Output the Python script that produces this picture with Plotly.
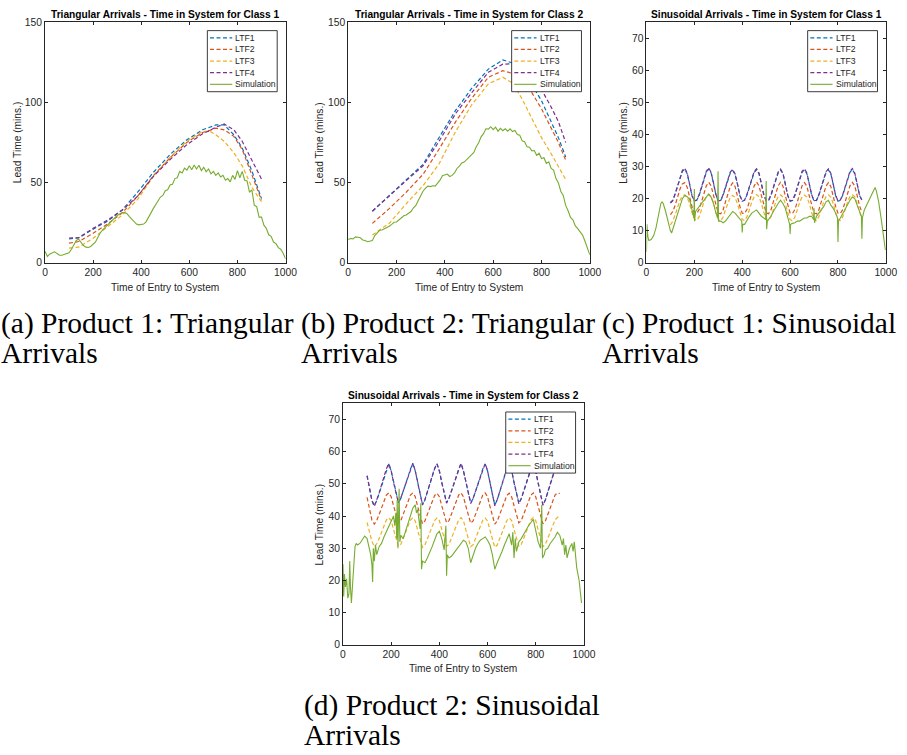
import plotly.graph_objects as go

W, H = 907, 755

# ---------------- data ----------------
SERIES_NAMES = ["LTF1", "LTF2", "LTF3", "LTF4", "Simulation"]
X_TICKS = [0, 200, 400, 600, 800, 1000]
Y_TICKS_TRI = [0, 50, 100, 150]
Y_TICKS_SIN = [0, 10, 20, 30, 40, 50, 60, 70]

TITLES = [
    "Triangular Arrivals - Time in System for Class 1",
    "Triangular Arrivals - Time in System for Class 2",
    "Sinusoidal Arrivals - Time in System for Class 1",
    "Sinusoidal Arrivals - Time in System for Class 2",
]
CAPTIONS = [
    ("(a) Product 1: Triangular", "Arrivals"),
    ("(b) Product 2: Triangular", "Arrivals"),
    ("(c) Product 1: Sinusoidal", "Arrivals"),
    ("(d) Product 2: Sinusoidal", "Arrivals"),
]

# Panel (a): triangular arrivals, class 1
T_A_LTF = [100, 140, 200, 260, 320, 385, 450, 520, 590, 655, 685, 710, 745, 785, 820, 860, 900]
A_LTF1 = [15.0, 15.5, 21.0, 26.0, 32.8, 44.0, 56.3, 67.5, 76.7, 82.9, 84.5, 85.9, 85.9, 79.8, 71.6, 57.3, 40.0]
A_LTF2 = [12.3, 13.3, 18.4, 24.2, 31.1, 41.5, 54.2, 65.5, 75.1, 81.2, 82.5, 83.9, 82.9, 78.8, 70.6, 55.3, 39.0]
A_LTF3 = [9.2, 9.8, 15.3, 22.5, 29.7, 39.5, 53.8, 65.8, 75.7, 81.9, 82.0, 79.8, 75.7, 68.6, 60.4, 47.1, 38.0]
A_LTF4 = [15.5, 15.7, 21.5, 26.6, 32.8, 41.5, 53.8, 64.4, 73.7, 80.4, 82.5, 84.5, 86.5, 82.9, 75.7, 63.5, 52.2]
T_A_SIM = list(range(0, 1001, 10))
A_SIM = [7.2, 4.0, 5.6, 6.5, 6.9, 5.8, 4.8, 4.8, 5.2, 5.7,
         6.3, 8.5, 11.5, 14.0, 14.8, 12.5, 10.8, 9.8, 9.6, 10.2,
         11.5, 13.0, 16.0, 18.8, 20.5, 22.0, 23.5, 25.0, 26.8, 28.2,
         29.5, 30.5, 31.2, 31.3, 30.8, 29.0, 27.2, 25.5, 24.2, 23.7,
         23.8, 24.2, 25.6, 28.0, 31.0, 33.8, 36.2, 38.5, 41.0, 42.0,
         45.0, 45.5, 48.5, 49.0, 52.5, 53.0, 57.0, 56.0, 59.0, 57.8,
         60.5, 58.0, 61.0, 58.5, 60.8, 57.5, 59.5, 56.8, 58.5, 55.5,
         57.0, 54.5, 56.0, 53.5, 54.5, 51.5, 52.5, 50.5, 54.5, 52.0,
         57.5, 53.0, 57.0, 51.5, 51.0, 44.0, 45.5, 36.0, 35.0, 28.5,
         28.5, 23.5, 21.5, 17.5, 16.5, 13.0, 12.0, 9.5, 8.5, 6.0,
         2.5]

# Panel (b): triangular arrivals, class 2
T_B_LTF = [100, 170, 240, 310, 375, 445, 510, 580, 640, 680, 720, 760, 800, 840, 870, 900]
B_LTF1 = [32.2, 42.0, 51.2, 61.4, 77.8, 95.1, 108.5, 120.7, 126.4, 124.5, 119.0, 111.0, 101.0, 88.0, 78.0, 66.0]
B_LTF2 = [24.6, 33.8, 44.0, 55.2, 70.6, 88.0, 102.3, 115.6, 119.7, 118.0, 113.0, 106.0, 96.0, 84.0, 75.0, 64.0]
B_LTF3 = [17.4, 24.6, 36.8, 48.1, 61.4, 81.9, 98.2, 111.5, 115.6, 112.0, 102.0, 90.0, 78.0, 68.0, 60.0, 52.0]
B_LTF4 = [32.2, 42.0, 51.2, 60.5, 75.5, 93.1, 105.8, 118.7, 123.8, 124.0, 121.5, 116.0, 108.0, 97.0, 88.0, 75.0]
T_B_SIM = list(range(0, 1001, 10))
B_SIM = [14.5, 15.2, 15.0, 16.2, 16.0, 15.6, 14.3, 14.0, 13.2, 13.5,
         14.0, 17.0, 19.0, 20.3, 20.5, 21.3, 21.8, 22.8, 24.0, 25.3,
         25.5, 26.8, 27.5, 29.3, 29.8, 30.8, 32.0, 34.3, 35.8, 38.8,
         41.5, 44.8, 46.5, 47.8, 47.5, 48.0, 47.8, 49.8, 51.5, 54.3,
         55.0, 55.3, 53.8, 54.5, 56.0, 58.8, 60.3, 62.3, 62.8, 64.3,
         65.3, 67.3, 68.8, 72.3, 74.8, 78.5, 80.5, 83.5, 83.3, 84.8,
         83.0, 84.5, 82.0, 83.8, 82.3, 83.5, 82.0, 83.5, 81.8, 82.5,
         80.0, 79.5, 76.0, 75.5, 72.3, 72.0, 69.8, 70.0, 67.0, 68.3,
         65.0, 65.5, 62.0, 63.0, 58.8, 57.8, 52.5, 49.8, 44.5, 42.0,
         35.8, 32.5, 28.3, 26.8, 23.0, 21.3, 19.0, 17.3, 13.5, 8.5,
         5.0]

# Panel (c): sinusoidal arrivals, class 1
T_C_LTF = list(range(100, 901, 10))
C_LTF1 = [18.8, 19.5, 21.5, 24.0, 26.5, 28.5, 29.2, 27.8, 24.5, 21.0,
          19.3, 19.5, 21.0, 23.5, 26.0, 28.2, 29.3, 28.0, 24.8, 21.2,
          19.2, 19.4, 21.0, 23.6, 26.0, 28.0, 28.8, 27.6, 24.5, 21.0,
          19.2, 19.5, 21.2, 23.6, 26.2, 28.2, 29.0, 27.8, 24.6, 21.2,
          19.3, 19.4, 21.0, 23.5, 26.0, 28.0, 28.9, 27.8, 24.5, 21.0,
          19.2, 19.4, 21.0, 23.5, 26.2, 28.2, 29.0, 27.8, 24.6, 21.1,
          19.3, 19.4, 21.0, 23.6, 26.0, 28.1, 29.0, 27.7, 24.5, 21.0,
          19.2, 19.5, 21.1, 23.5, 26.1, 28.2, 29.1, 27.8, 24.6, 21.0,
          19.5]
C_LTF2 = [15.0, 16.0, 18.0, 20.5, 23.0, 24.6, 25.0, 23.6, 20.6, 17.6,
          15.6, 15.4, 16.6, 19.0, 21.6, 24.0, 25.1, 24.0, 21.0, 17.8,
          15.5, 15.3, 16.5, 19.0, 21.5, 23.8, 24.9, 23.8, 20.8, 17.6,
          15.5, 15.4, 16.7, 19.1, 21.7, 24.0, 25.2, 24.0, 21.0, 17.8,
          15.6, 15.3, 16.5, 19.0, 21.6, 24.0, 25.1, 23.9, 20.9, 17.7,
          15.5, 15.4, 16.6, 19.0, 21.6, 24.0, 25.0, 23.9, 20.9, 17.7,
          15.5, 15.3, 16.5, 19.0, 21.6, 23.9, 25.0, 23.8, 20.8, 17.6,
          15.5, 15.4, 16.6, 19.1, 21.7, 24.0, 25.1, 24.0, 21.0, 17.8,
          15.8]
C_LTF3 = [11.8, 13.0, 15.0, 17.5, 19.5, 20.8, 21.2, 20.4, 18.4, 15.6,
          13.6, 13.2, 14.4, 16.6, 19.0, 20.6, 21.2, 20.6, 18.6, 15.8,
          13.5, 13.0, 14.3, 16.5, 18.8, 20.4, 21.0, 20.4, 18.4, 15.6,
          13.5, 13.2, 14.4, 16.6, 19.0, 20.6, 21.3, 20.6, 18.6, 15.8,
          13.6, 13.2, 14.4, 16.6, 19.0, 20.6, 21.2, 20.5, 18.5, 15.7,
          13.5, 13.1, 14.3, 16.5, 18.9, 20.5, 21.1, 20.5, 18.5, 15.7,
          13.5, 13.2, 14.4, 16.6, 19.0, 20.6, 21.2, 20.5, 18.5, 15.7,
          13.5, 13.2, 14.4, 16.6, 19.0, 20.6, 21.2, 20.6, 18.6, 15.8,
          14.0]
C_LTF4 = [18.6, 19.4, 21.6, 24.2, 26.8, 28.8, 29.5, 28.0, 24.6, 21.0,
          19.3, 19.6, 21.2, 23.8, 26.3, 28.5, 29.6, 28.2, 24.9, 21.3,
          19.3, 19.5, 21.2, 23.8, 26.2, 28.3, 29.1, 27.8, 24.6, 21.1,
          19.3, 19.6, 21.4, 23.8, 26.4, 28.5, 29.3, 28.0, 24.7, 21.3,
          19.4, 19.5, 21.2, 23.7, 26.2, 28.3, 29.2, 28.0, 24.6, 21.1,
          19.3, 19.5, 21.2, 23.7, 26.4, 28.5, 29.3, 28.0, 24.7, 21.2,
          19.4, 19.5, 21.2, 23.8, 26.2, 28.4, 29.3, 27.9, 24.6, 21.1,
          19.3, 19.6, 21.3, 23.7, 26.3, 28.5, 29.4, 28.0, 24.7, 21.1,
          19.6]
T_C_SIM = [0, 2, 6, 10, 20, 30, 40, 50, 60, 65, 70, 80, 90, 100, 105, 110, 120, 130, 140, 150,
           160, 170, 180, 190, 195, 198, 200, 201, 205, 210, 220, 230, 240, 250, 260, 270, 280, 290, 297, 299,
           301, 310, 320, 330, 340, 350, 360, 370, 380, 390, 398, 400, 402, 410, 420, 430, 440, 450, 460, 470,
           480, 490, 498, 500, 502, 505, 510, 520, 530, 540, 550, 560, 570, 580, 590, 598, 600, 602, 610, 620,
           630, 640, 650, 660, 670, 680, 690, 698, 700, 702, 710, 720, 730, 740, 750, 760, 770, 780, 790, 798,
           800, 802, 810, 820, 830, 840, 850, 860, 870, 880, 890, 898, 900, 902, 910, 920, 930, 940, 950, 955,
           960, 970, 980, 990, 998]
C_SIM = [3.5, 12.0, 8.0, 7.0, 7.3, 8.5, 11.0, 15.0, 18.5, 19.0, 18.5, 16.0, 12.5, 10.0, 9.3, 10.5, 12.5, 15.0, 18.0, 20.0,
         21.0, 20.6, 19.8, 16.5, 15.5, 14.0, 23.0, 13.0, 16.0, 16.5, 17.5, 18.5, 19.5, 20.5, 21.5, 20.5, 18.5, 15.5, 14.0, 28.5,
         13.0, 13.0, 12.5, 13.0, 14.0, 15.0, 16.0, 15.5, 14.5, 13.5, 13.0, 9.5, 12.0, 12.0, 13.5, 14.5, 15.5, 16.0, 16.5, 15.5,
         14.5, 14.0, 13.5, 25.5, 10.5, 13.0, 13.5, 14.5, 16.0, 17.5, 18.5, 19.5, 18.5, 17.0, 14.0, 12.0, 9.0, 12.0, 12.3, 12.5,
         13.0, 13.0, 13.5, 14.0, 14.0, 14.5, 14.5, 13.5, 17.0, 12.5, 14.5, 15.5, 16.5, 17.5, 19.0, 19.5, 18.0, 17.0, 15.5, 14.0,
         6.5, 13.0, 14.0, 15.5, 17.0, 18.5, 19.5, 20.5, 20.0, 18.0, 16.0, 14.5, 7.5, 14.0, 16.5, 18.0, 20.0, 21.5, 23.0, 23.5,
         22.5, 19.0, 14.0, 9.0, 4.0]

# Panel (d): sinusoidal arrivals, class 2
T_D_LTF = list(range(100, 901, 10))
D_LTF1 = [52.5, 48.5, 45.0, 43.2, 44.8, 47.0, 49.5, 52.0, 54.5, 56.2,
          54.0, 50.5, 47.0, 44.3, 45.5, 47.6, 49.8, 52.2, 54.6, 56.3,
          54.0, 50.3, 46.8, 43.6, 45.0, 47.4, 49.8, 52.2, 54.6, 56.2,
          54.0, 50.5, 47.0, 44.2, 45.5, 47.6, 49.8, 52.2, 54.6, 56.3,
          54.0, 50.5, 47.0, 44.1, 45.4, 47.5, 49.8, 52.2, 54.6, 56.2,
          54.0, 50.3, 46.8, 43.4, 45.0, 47.4, 49.8, 52.2, 54.6, 56.2,
          54.0, 50.5, 47.0, 44.0, 45.4, 47.5, 49.8, 52.2, 54.5, 56.0,
          53.8, 50.3, 46.7, 43.5, 45.0, 47.3, 49.7, 52.1, 54.5, 56.0,
          54.0]
D_LTF2 = [45.8, 42.0, 38.8, 37.5, 38.6, 40.5, 42.5, 44.5, 46.5, 47.2,
          46.0, 43.2, 40.3, 38.0, 38.6, 40.5, 42.6, 44.6, 46.5, 47.2,
          46.0, 43.0, 40.0, 37.6, 38.5, 40.4, 42.5, 44.5, 46.4, 47.1,
          46.0, 43.2, 40.2, 37.9, 38.6, 40.5, 42.6, 44.6, 46.5, 47.2,
          46.0, 43.1, 40.1, 37.8, 38.5, 40.4, 42.5, 44.5, 46.5, 47.2,
          46.0, 43.0, 40.0, 37.5, 38.4, 40.4, 42.5, 44.5, 46.4, 47.1,
          46.0, 43.2, 40.2, 37.9, 38.6, 40.5, 42.6, 44.6, 46.5, 47.2,
          46.0, 43.0, 40.0, 37.6, 38.5, 40.5, 42.6, 44.6, 46.5, 47.2,
          47.0]
D_LTF3 = [38.0, 35.0, 32.2, 30.5, 31.4, 33.0, 35.0, 37.0, 38.8, 39.5,
          38.6, 35.8, 32.8, 30.6, 31.2, 33.0, 35.0, 37.0, 38.8, 39.5,
          38.5, 35.6, 32.6, 30.3, 31.0, 32.8, 34.8, 36.8, 38.6, 39.4,
          38.6, 35.8, 32.8, 30.6, 31.2, 33.0, 35.0, 37.0, 38.8, 39.5,
          38.6, 35.7, 32.7, 30.5, 31.1, 32.9, 34.9, 36.9, 38.7, 39.4,
          38.5, 35.6, 32.6, 30.3, 31.0, 32.8, 34.8, 36.8, 38.6, 39.4,
          38.6, 35.8, 32.8, 30.6, 31.2, 33.0, 35.0, 37.0, 38.8, 39.5,
          38.6, 35.7, 32.7, 30.5, 31.2, 33.0, 35.0, 37.0, 38.8, 39.6,
          40.0]
D_LTF4 = [52.6, 48.4, 44.8, 43.0, 44.9, 47.2, 49.7, 52.2, 54.7, 56.3,
          54.1, 50.4, 46.9, 44.1, 45.6, 47.8, 50.0, 52.4, 54.8, 56.4,
          54.1, 50.2, 46.6, 43.4, 45.1, 47.6, 50.0, 52.4, 54.8, 56.3,
          54.1, 50.4, 46.9, 44.0, 45.6, 47.8, 50.0, 52.4, 54.8, 56.4,
          54.1, 50.4, 46.9, 43.9, 45.5, 47.7, 50.0, 52.4, 54.8, 56.3,
          54.1, 50.2, 46.6, 43.2, 45.1, 47.6, 50.0, 52.4, 54.8, 56.3,
          54.1, 50.4, 46.9, 43.8, 45.5, 47.7, 50.0, 52.4, 54.7, 56.1,
          53.9, 50.2, 46.6, 43.3, 45.1, 47.5, 49.9, 52.3, 54.7, 56.1,
          54.1]
T_D_SIM = [0, 3, 6, 10, 15, 20, 25, 28, 31, 35, 40, 45, 50, 55, 60, 70, 80, 90, 100, 110,
           115, 120, 123, 126, 130, 135, 140, 150, 160, 170, 180, 190, 200, 210, 215, 220, 223, 225, 228, 230,
           233, 236, 240, 250, 260, 270, 280, 290, 300, 305, 310, 315, 320, 323, 326, 330, 340, 350, 360, 370,
           380, 390, 400, 410, 420, 427, 430, 433, 440, 450, 460, 470, 480, 490, 500, 510, 520, 530, 540, 550,
           560, 570, 580, 590, 600, 610, 620, 630, 640, 650, 660, 670, 680, 690, 700, 705, 710, 715, 720, 730,
           740, 750, 760, 770, 780, 790, 800, 810, 820, 825, 828, 835, 840, 850, 860, 870, 880, 890, 900, 910,
           915, 920, 925, 930, 940, 950, 955, 960, 965, 970, 980, 990]
D_SIM = [25.0, 15.0, 22.0, 18.0, 20.5, 14.5, 16.0, 26.0, 18.0, 13.0, 19.0, 26.0, 30.5, 31.5, 31.0, 31.5, 32.5, 33.8, 33.0, 30.0,
         28.0, 25.0, 19.5, 30.0, 26.0, 31.0, 28.0, 30.5, 31.5, 33.5, 35.0, 36.5, 38.0, 40.0, 37.0, 41.0, 33.0, 45.0, 30.0, 35.0,
         48.5, 32.0, 34.0, 33.0, 35.5, 37.5, 40.0, 42.5, 43.5, 41.0, 42.0, 38.0, 36.0, 44.0, 23.5, 26.0, 25.5, 27.0, 28.5, 30.5,
         32.5, 34.5, 35.3, 33.0, 29.5, 37.0, 21.5, 28.0, 27.0, 27.5, 28.5, 29.5, 30.5, 31.5, 32.5, 32.0, 30.0, 25.5, 28.0, 30.0,
         31.5, 32.5, 33.0, 33.5, 32.5, 31.0, 28.0, 23.5, 25.5, 27.0, 29.0, 31.0, 33.0, 34.5, 31.0, 35.0, 27.0, 33.0, 29.0, 32.0,
         33.0, 34.5, 36.0, 37.0, 38.0, 39.0, 35.5, 32.0, 30.0, 43.5, 27.0, 28.0, 29.5, 30.0, 31.5, 32.5, 33.5, 35.0, 34.0, 31.0,
         33.0, 28.0, 31.0, 27.0, 30.0, 31.5, 29.0, 32.0, 27.0, 24.0, 20.0, 13.0]

PANELS = [
    dict(t_ltf=T_A_LTF, ltf=[A_LTF1, A_LTF2, A_LTF3, A_LTF4], t_sim=T_A_SIM, sim=A_SIM,
         yr=[0, 150], yt=Y_TICKS_TRI),
    dict(t_ltf=T_B_LTF, ltf=[B_LTF1, B_LTF2, B_LTF3, B_LTF4], t_sim=T_B_SIM, sim=B_SIM,
         yr=[0, 150], yt=Y_TICKS_TRI),
    dict(t_ltf=T_C_LTF, ltf=[C_LTF1, C_LTF2, C_LTF3, C_LTF4], t_sim=T_C_SIM, sim=C_SIM,
         yr=[0, 75], yt=Y_TICKS_SIN),
    dict(t_ltf=T_D_LTF, ltf=[D_LTF1, D_LTF2, D_LTF3, D_LTF4], t_sim=T_D_SIM, sim=D_SIM,
         yr=[0, 75], yt=Y_TICKS_SIN),
]

# ---------------- styling / layout ----------------
COLORS = ["#0072BD", "#D95319", "#EDB120", "#7E2F8E", "#77AC30"]
DASH = "4px,2.5px"
AXC = "#262626"
SANS = "Liberation Sans, Arial, sans-serif"
SERIF = "Liberation Serif, Times New Roman, serif"

# axes boxes in pixels: left, top, right, bottom
BOXES = [
    (42.7, 17.3, 287.3, 261.7),
    (351.0, 17.3, 596.7, 261.7),
    (654.3, 17.3, 897.7, 261.7),
    (345.7, 404.3, 590.7, 649.3),
]
YLAB_X = [15.0, 321.7, 630.7, 321.7]
CAP_POS = [(-4, 323, 353), (301, 323, 353), (607, 323, 353), (304, 711, 741)]


def px(x):
    return x / W


def py(y):
    return 1 - y / H


fig = go.Figure()
layout = dict(
    width=W, height=H, margin=dict(l=0, r=0, t=0, b=0),
    paper_bgcolor="white", plot_bgcolor="white", showlegend=False,
    font=dict(family=SANS, color=AXC),
)
shapes, annotations = [], []

for i, (p, box) in enumerate(zip(PANELS, BOXES)):
    k = "" if i == 0 else str(i + 1)
    xa, ya = "x" + k, "y" + k
    l, t, r, b = box
    for j in range(4):
        fig.add_trace(go.Scatter(
            x=p["t_ltf"], y=p["ltf"][j], mode="lines", name=SERIES_NAMES[j],
            line=dict(color=COLORS[j], width=1.2, dash=DASH),
            xaxis=xa, yaxis=ya, hoverinfo="skip"))
    fig.add_trace(go.Scatter(
        x=p["t_sim"], y=p["sim"], mode="lines", name=SERIES_NAMES[4],
        line=dict(color=COLORS[4], width=1.1),
        xaxis=xa, yaxis=ya, hoverinfo="skip"))

    axcommon = dict(showline=True, linecolor=AXC, linewidth=1, mirror="ticks",
                    ticks="inside", ticklen=3, tickwidth=0.8, tickcolor=AXC,
                    showgrid=False, zeroline=False,
                    tickfont=dict(family=SANS, size=10.3, color=AXC))
    layout["xaxis" + k] = dict(axcommon, domain=[px(l), px(r)], range=[0, 1000],
                               tickvals=X_TICKS, anchor=ya)
    layout["yaxis" + k] = dict(axcommon, domain=[py(b), py(t)], range=p["yr"],
                               tickvals=p["yt"], anchor=xa)

    cx = (l + r) / 2
    annotations.append(dict(x=px(cx), y=py(t - 8), xref="paper", yref="paper",
                            text="<b>" + TITLES[i] + "</b>", showarrow=False,
                            font=dict(family=SANS, size=10.2, color="black"),
                            xanchor="center", yanchor="middle"))
    annotations.append(dict(x=px(cx), y=py(b + 24.5), xref="paper", yref="paper",
                            text="Time of Entry to System", showarrow=False,
                            font=dict(family=SANS, size=10.2, color=AXC),
                            xanchor="center", yanchor="middle"))
    annotations.append(dict(x=px(YLAB_X[i]), y=py((t + b) / 2), xref="paper", yref="paper",
                            text="Lead Time (mins.)", showarrow=False, textangle=-90,
                            font=dict(family=SANS, size=10.2, color=AXC),
                            xanchor="center", yanchor="middle"))

    # legend box (drawn manually, MATLAB style)
    bw, bh = 71, 62
    br, bt = r - 8.5, t + 8.7
    bl, bb = br - bw, bt + bh
    shapes.append(dict(type="rect", xref="paper", yref="paper",
                       x0=px(bl), x1=px(br), y0=py(bb), y1=py(bt),
                       line=dict(color=AXC, width=0.9), fillcolor="white", layer="above"))
    for j, nm in enumerate(SERIES_NAMES):
        yy = bt + 7.3 + j * 11.8
        shapes.append(dict(type="line", xref="paper", yref="paper",
                           x0=px(bl + 2.7), x1=px(bl + 25.3), y0=py(yy), y1=py(yy),
                           line=dict(color=COLORS[j], width=1.2 if j < 4 else 1.1,
                                     dash=DASH if j < 4 else "solid"),
                           layer="above"))
        annotations.append(dict(x=px(bl + 26.5), y=py(yy), xref="paper", yref="paper",
                                text=nm, showarrow=False, xanchor="left", yanchor="middle",
                                font=dict(family=SANS, size=8.7, color=AXC)))

# captions
for (l1, l2), (cx, y1, y2) in zip(CAPTIONS, CAP_POS):
    annotations.append(dict(x=px(cx), y=py(y1), xref="paper", yref="paper", text=l1,
                            showarrow=False, xanchor="left", yanchor="middle",
                            font=dict(family=SERIF, size=29.5, color="black")))
    annotations.append(dict(x=px(cx), y=py(y2), xref="paper", yref="paper", text=l2,
                            showarrow=False, xanchor="left", yanchor="middle",
                            font=dict(family=SERIF, size=29.5, color="black")))

layout["shapes"] = shapes
layout["annotations"] = annotations
fig.update_layout(**layout)
fig.write_html("out.html")
